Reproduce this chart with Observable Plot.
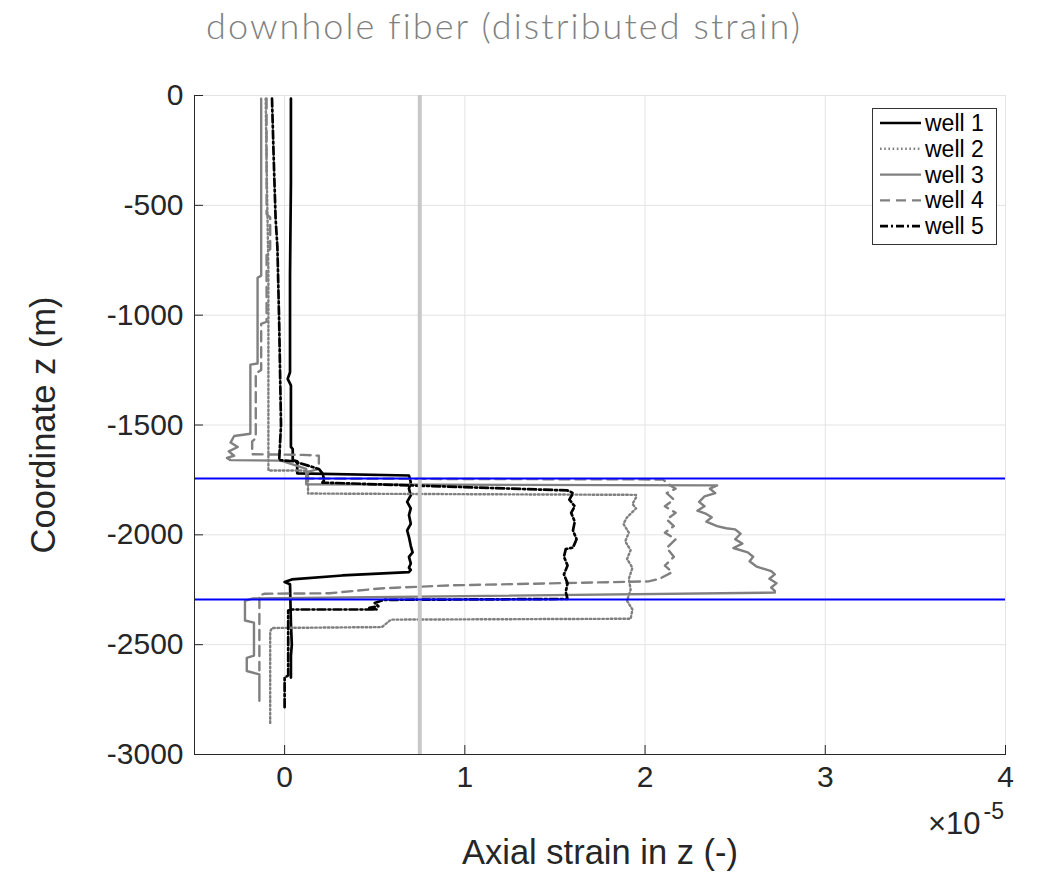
<!DOCTYPE html>
<html><head><meta charset="utf-8">
<script src="https://cdn.jsdelivr.net/npm/d3@7"></script>
<script src="https://cdn.jsdelivr.net/npm/@observablehq/plot@0.6"></script>
<style>
body{margin:0;background:#fff;}
#wrap{position:relative;width:1038px;height:878px;}
#legend{position:absolute;left:872px;top:108px;width:125px;height:137px;box-sizing:border-box;border:1px solid #333;background:#fff;}
</style>
</head><body>
<div id="wrap"><div id="chart"></div><div id="legend"></div></div>
<script>
// strain values in units of 1e-5 (axis shows ×10^-5), depth z in metres
const well1Strain = [0.035,0.035,0.03,0.03,0.017,0.035,0.035,0.045,0.045,0.07,0.07,0.69,0.70,0.69,0.70,0.68,0.70,0.69,0.70,0.68,0.69,0.70,0.71,0.69,0.70,0.69,0.70,0.69,0.32,0.04,0.0,0.03,0.035,0.04,0.035,0.035];
const well1Z      = [-14,-400,-820,-1260,-1290,-1320,-1600,-1610,-1660,-1665,-1720,-1730,-1760,-1790,-1820,-1850,-1880,-1910,-1950,-1980,-2010,-2050,-2080,-2100,-2130,-2150,-2160,-2170,-2185,-2203,-2215,-2225,-2400,-2500,-2550,-2650];

const well2Strain = [-0.105,-0.10,-0.09,-0.09,-0.09,0.10,0.13,0.13,1.95,1.95,1.93,1.95,1.90,1.88,1.91,1.89,1.92,1.90,1.93,1.91,1.92,1.90,1.93,1.92,0.59,0.54,-0.07,-0.08,-0.08];
const well2Z      = [-14,-300,-800,-1700,-1707,-1707,-1712,-1812,-1818,-1830,-1860,-1880,-1920,-1950,-1990,-2030,-2070,-2110,-2150,-2200,-2250,-2300,-2340,-2382,-2386,-2420,-2424,-2440,-2865];

const well3Strain = [-0.13,-0.13,-0.15,-0.15,-0.19,-0.19,-0.28,-0.30,-0.26,-0.31,-0.28,-0.32,-0.30,-0.02,0.12,0.12,2.40,2.36,2.39,2.33,2.30,2.33,2.29,2.34,2.37,2.34,2.40,2.45,2.50,2.53,2.50,2.54,2.49,2.57,2.60,2.58,2.62,2.70,2.72,2.69,2.73,2.70,2.72,2.72,-0.18,-0.22,-0.22,-0.17,-0.17,-0.21,-0.21,-0.14,-0.14];
const well3Z      = [-14,-820,-830,-1220,-1225,-1540,-1550,-1580,-1600,-1620,-1640,-1650,-1660,-1662,-1700,-1770,-1775,-1790,-1810,-1825,-1850,-1870,-1890,-1905,-1920,-1940,-1960,-1970,-1975,-1995,-2020,-2040,-2060,-2080,-2100,-2120,-2145,-2165,-2180,-2200,-2220,-2240,-2255,-2263,-2290,-2300,-2390,-2400,-2550,-2560,-2620,-2635,-2755];

const well4Strain = [-0.10,-0.10,-0.08,-0.08,-0.10,-0.10,-0.13,-0.13,-0.16,-0.16,-0.18,-0.18,0.10,0.19,0.19,0.12,0.12,2.10,2.13,2.17,2.12,2.16,2.11,2.17,2.12,2.16,2.11,2.17,2.12,2.16,2.11,2.15,2.08,2.02,0.92,0.53,0.25,-0.11,-0.14,-0.14];
const well4Z      = [-14,-540,-555,-700,-710,-1030,-1040,-1250,-1265,-1560,-1575,-1633,-1636,-1640,-1700,-1715,-1744,-1748,-1770,-1790,-1810,-1840,-1870,-1900,-1930,-1960,-1990,-2020,-2060,-2100,-2140,-2170,-2200,-2212,-2230,-2244,-2266,-2268,-2275,-2617];

const well5Strain = [-0.07,-0.06,-0.05,-0.04,-0.03,-0.02,-0.03,0.05,0.13,0.19,0.21,0.22,0.21,1.57,1.60,1.58,1.61,1.59,1.61,1.60,1.62,1.60,1.56,1.55,1.57,1.55,1.57,1.56,1.57,0.55,0.50,0.52,0.47,0.51,0.04,0.02,0.02,0.0,0.0];
const well5Z      = [-14,-300,-560,-690,-1040,-1500,-1660,-1665,-1685,-1700,-1720,-1750,-1762,-1798,-1810,-1840,-1870,-1900,-1940,-1980,-2020,-2058,-2065,-2100,-2140,-2180,-2220,-2260,-2292,-2296,-2310,-2325,-2332,-2340,-2340,-2345,-2640,-2650,-2790];

const wellNames = ["well 1","well 2","well 3","well 4","well 5"];
const referenceStrain = [0.75];
const horizonDepths = [-1743, -2294];
const xTicks = [0,1,2,3,4];
const yTicks = [-3000,-2500,-2000,-1500,-1000,-500,0];

const styles = [
  {stroke:"#000000", dash:null, width:2.7},
  {stroke:"#808080", dash:"1.6,2.6", width:2.4},
  {stroke:"#808080", dash:null, width:2.4},
  {stroke:"#808080", dash:"10,6", width:2.4},
  {stroke:"#000000", dash:"8,3,2,3", width:2.7}
];
const strains = [well1Strain, well2Strain, well3Strain, well4Strain, well5Strain];
const depths = [well1Z, well2Z, well3Z, well4Z, well5Z];
const series = strains.map((s, k) => s.map((x, i) => ({x, z: depths[k][i]})));

const textColor = "#262626";
const chart = Plot.plot({
  width: 1038, height: 878,
  marginLeft: 194, marginRight: 33, marginTop: 95, marginBottom: 124,
  style: {fontFamily: "'Liberation Sans', Arial, sans-serif", background: "#fff", color: textColor},
  x: {domain: [-0.5, 4]},
  y: {domain: [-3000, 0]},
  marks: [
    Plot.gridX(xTicks, {stroke: "#e3e3e3", strokeOpacity: 1}),
    Plot.gridY(yTicks, {stroke: "#e3e3e3", strokeOpacity: 1}),
    ...series.map((d, k) => Plot.line(d, {x: "x", y: "z", stroke: styles[k].stroke, strokeWidth: styles[k].width, strokeDasharray: styles[k].dash})),
    Plot.ruleX(referenceStrain, {stroke: "#c8c8c8", strokeWidth: 4}),
    Plot.ruleY(horizonDepths, {stroke: "#0000ff", strokeWidth: 2}),
    Plot.frame({anchor: "left", stroke: textColor}),
    Plot.frame({anchor: "bottom", stroke: textColor}),
    Plot.axisX(xTicks, {tickSize: -9, tickPadding: 20, fontSize: 30, label: null, tickFormat: d => String(d), stroke: textColor}),
    Plot.axisY(yTicks, {tickSize: -9, tickPadding: 20, fontSize: 30, label: null, tickFormat: d => String(d), stroke: textColor}),
    Plot.text(["Axial strain in z (-)"], {frameAnchor: "bottom", dy: 98, lineAnchor: "middle", textAnchor: "middle", fontSize: 34.5, fill: textColor}),
    Plot.text(["Coordinate z (m)"], {frameAnchor: "left", dx: -151, rotate: -90, lineAnchor: "middle", textAnchor: "middle", fontSize: 34.5, fill: textColor}),
    Plot.text(["×10"], {frameAnchor: "bottom-right", dx: -25, dy: 70, lineAnchor: "middle", textAnchor: "end", fontSize: 31, fill: textColor}),
    Plot.text(["-5"], {frameAnchor: "bottom-right", dx: -22, dy: 57, lineAnchor: "middle", textAnchor: "start", fontSize: 23, fill: textColor}),
    Plot.text(["downhole fiber (distributed strain)"], {frameAnchor: "top", dy: -68, dx: -96, lineAnchor: "middle", textAnchor: "middle", fontSize: 36, fontWeight: 300, fontFamily: "Lato", fill: "#808080", className: "chart-title"})
  ]
});
chart.querySelectorAll(".chart-title text").forEach(t => t.setAttribute("letter-spacing", "2.1"));
document.getElementById("chart").appendChild(chart);

// legend
const lg = d3.select("#legend").append("svg").attr("width", 123).attr("height", 135);
wellNames.forEach((name, k) => {
  const y = 14 + k * 25.8;
  lg.append("line").attr("x1", 7).attr("x2", 48).attr("y1", y).attr("y2", y)
    .attr("stroke", styles[k].stroke).attr("stroke-width", styles[k].width)
    .attr("stroke-dasharray", styles[k].dash);
  lg.append("text").attr("x", 52).attr("y", y).attr("dy", "0.35em")
    .attr("font-family", "'Liberation Sans', Arial, sans-serif").attr("font-size", 23)
    .attr("fill", "#000").text(name);
});
</script>
</body></html>
